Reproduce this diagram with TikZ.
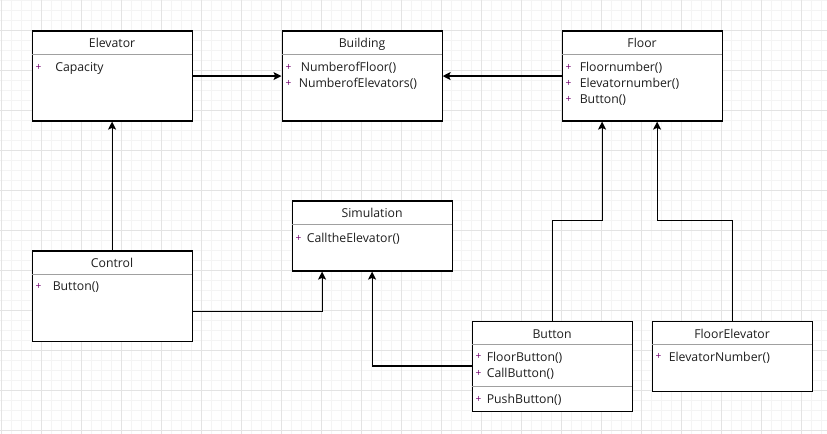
\documentclass[tikz,border=0pt]{standalone}
\usepackage{fontspec}
\setmainfont{Open Sans}
\usetikzlibrary{arrows.meta,calc}
\definecolor{gridminor}{HTML}{F4F4F4}
\definecolor{gridmajor}{HTML}{E3E3E3}
\definecolor{divider}{HTML}{A0A0A0}
\definecolor{visib}{HTML}{70006E}
\definecolor{ink}{HTML}{1E1E1E}

% one member line of a class box: box, name, text x-offset, baseline y-offset, text
\newcommand{\memberrow}[5]{%
  \node[vismark] (#2-v) at ($(#1.north west)+(7,#4-4.3)$) {+};
  \node[member] (#2) at ($(#1.north west)+(#3,#4)$) {#5};}
% title of a class box
\newcommand{\classtitle}[3]{%
  \node[title] (#2) at ($(#1.north)+(0,17.5)$) {#3};
  \draw[sep] ($(#1.north west)+(0.6,24)$) -- ($(#1.north east)+(-0.6,24)$);}

\begin{document}
\begin{tikzpicture}[x=0.75pt,y=-0.75pt,
  classbox/.style={draw=black,line width=0.85pt,fill=white,rectangle,
    anchor=north west,inner sep=0pt,minimum width=120pt},
  tall/.style={minimum height=67.5pt},
  short/.style={minimum height=52.5pt},
  title/.style={font=\fontsize{9.2pt}{11pt}\selectfont,text=ink,inner sep=0pt,anchor=base},
  member/.style={font=\fontsize{9.2pt}{11pt}\selectfont,text=ink,inner sep=0pt,anchor=base west},
  vismark/.style={font=\fontsize{7.6pt}{8pt}\selectfont,text=visib,inner sep=0pt,anchor=center},
  sep/.style={draw=divider,line width=0.75pt},
  assoc/.style={draw=black,line width=0.85pt,-{Stealth[length=6pt,width=6pt,inset=1.3pt]}}
]
\useasboundingbox (0,0) rectangle (827,434);
\fill[white] (0,0) rectangle (827,434);

% background grid
\foreach \i in {0,...,82} \draw[gridminor,line width=0.75pt] (1.5+10*\i,0) -- (1.5+10*\i,434);
\foreach \i in {0,...,43} \draw[gridminor,line width=0.75pt] (0,0.5+10*\i) -- (827,0.5+10*\i);
\foreach \i in {0,...,20} \draw[gridmajor,line width=0.75pt] (1.5+40*\i,0) -- (1.5+40*\i,434);
\foreach \i in {0,...,10} \draw[gridmajor,line width=0.75pt] (0,30.5+40*\i) -- (827,30.5+40*\i);

% class boxes
\node[classbox,tall]  (elevator)      at (31.5,30.5)   {};
\node[classbox,tall]  (building)      at (281.5,30.5)  {};
\node[classbox,tall]  (floor)         at (561.5,30.5)  {};
\node[classbox,short] (simulation)    at (291.5,200.5) {};
\node[classbox,tall]  (control)       at (31.5,250.5)  {};
\node[classbox,tall]  (button)        at (471.5,320.5) {};
\node[classbox,short] (floorelevator) at (651.5,320.5) {};

% Elevator
\classtitle{elevator}{elevator-t}{Elevator}
\memberrow{elevator}{elevator-m1}{23.5}{41.5}{Capacity}

% Building
\classtitle{building}{building-t}{Building}
\memberrow{building}{building-m1}{19}{41.5}{NumberofFloor()}
\memberrow{building}{building-m2}{17}{57}{NumberofElevators()}

% Floor
\classtitle{floor}{floor-t}{Floor}
\memberrow{floor}{floor-m1}{18}{41.5}{Floornumber()}
\memberrow{floor}{floor-m2}{18}{57}{Elevatornumber()}
\memberrow{floor}{floor-m3}{18}{73}{Button()}

% Simulation
\classtitle{simulation}{simulation-t}{Simulation}
\memberrow{simulation}{simulation-m1}{15}{42}{CalltheElevator()}

% Control
\classtitle{control}{control-t}{Control}
\memberrow{control}{control-m1}{21}{40.5}{Button()}

% Button
\classtitle{button}{button-t}{Button}
\memberrow{button}{button-m1}{15}{40.5}{FloorButton()}
\memberrow{button}{button-m2}{15}{57}{CallButton()}
\draw[sep] ($(button.north west)+(0.6,66)$) -- ($(button.north east)+(-0.6,66)$);
\memberrow{button}{button-m3}{15}{83}{PushButton()}

% FloorElevator
\classtitle{floorelevator}{floorelevator-t}{FloorElevator}
\memberrow{floorelevator}{floorelevator-m1}{17}{40.5}{ElevatorNumber()}

% associations
\draw[assoc] (elevator.east) -- (building.west);
\draw[assoc] (floor.west) -- (building.east);
\draw[assoc] (control.north) -- (elevator.south);
\draw[assoc] ($(control.south east)+(0,-30)$) -| ($(simulation.south)+(-50,0)$);
\draw[assoc] ($(button.north west)+(0,45.5)$) -| (simulation.south);
\draw[assoc] (button.north) -- ++(0,-100) -| ($(floor.south)+(-40,0)$);
\draw[assoc] (floorelevator.north) -- ++(0,-100) -| ($(floor.south)+(15,0)$);
\end{tikzpicture}
\end{document}
